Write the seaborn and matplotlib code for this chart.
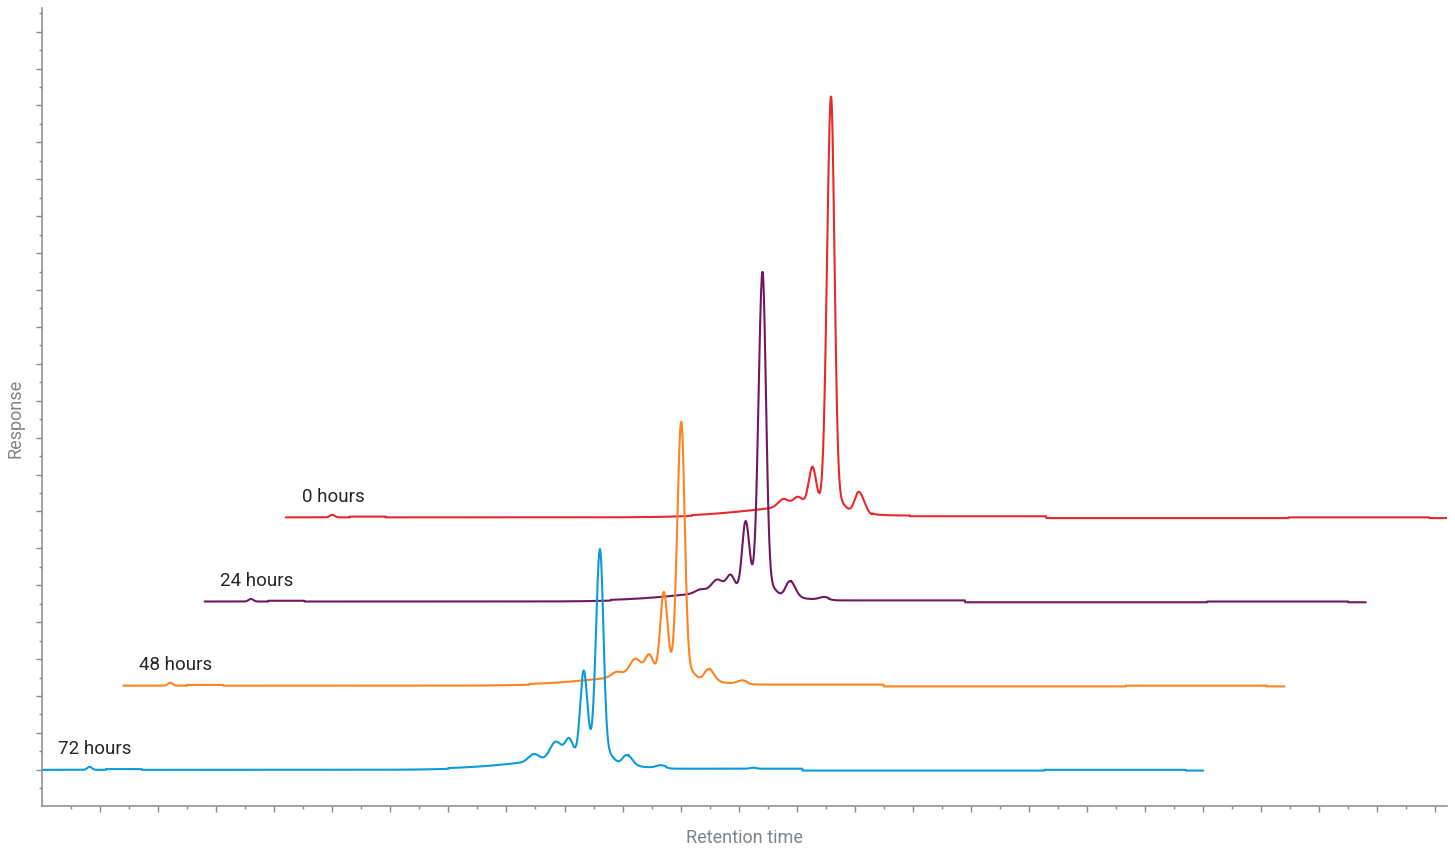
import numpy as np
import pandas as pd
import matplotlib
matplotlib.use("Agg")
import matplotlib.pyplot as plt
import seaborn as sns

# Sample labels, drawn bottom trace last
samples = ["0 hours", "24 hours", "48 hours", "72 hours"]
colors = ["#e8282b", "#6f1a5f", "#ff8420", "#0a9bdc"]

# Each chromatogram is shifted right and up from the one in front of it
run_length = 20.0          # minutes recorded per run
x_shift = [4.2, 2.8, 1.4, 0.0]
y_shift = [6.84, 4.56, 2.28, 0.0]

# Peak table per sample: retention time (min), height, left/right widths
peak_rt = {
    "0 hours":  [0.80, 8.57, 8.82, 9.07, 9.39, 9.55, 9.87],
    "24 hours": [0.80, 8.54, 8.83, 9.06, 9.32, 9.61, 9.77, 10.08, 10.67],
    "48 hours": [0.81, 8.50, 8.82, 9.06, 9.31, 9.61, 9.77, 10.08, 10.66],
    "72 hours": [0.82, 8.47, 8.85, 9.08, 9.33, 9.61, 9.77, 10.07, 10.66, 12.25],
}
peak_h = {
    "0 hours":  [0.07, 0.22, 0.25, 1.05, 11.09, 0.18, 0.58],
    "24 hours": [0.07, 0.10, 0.33, 0.42, 1.88, 8.64, 0.16, 0.44, 0.07],
    "48 hours": [0.08, 0.14, 0.45, 0.52, 2.22, 6.84, 0.16, 0.33, 0.09],
    "72 hours": [0.08, 0.20, 0.48, 0.52, 2.37, 5.67, 0.18, 0.28, 0.07, 0.03],
}
peak_sl = {
    "0 hours":  [0.04, 0.09, 0.08, 0.065, 0.068, 0.08, 0.07],
    "24 hours": [0.04, 0.09, 0.10, 0.07, 0.06, 0.068, 0.08, 0.07, 0.08],
    "48 hours": [0.04, 0.09, 0.10, 0.07, 0.06, 0.068, 0.08, 0.07, 0.08],
    "72 hours": [0.04, 0.09, 0.10, 0.07, 0.06, 0.068, 0.08, 0.07, 0.08, 0.05],
}
peak_sr = {
    "0 hours":  [0.04, 0.09, 0.08, 0.065, 0.06, 0.08, 0.09],
    "24 hours": [0.04, 0.09, 0.10, 0.07, 0.065, 0.06, 0.08, 0.09, 0.08],
    "48 hours": [0.04, 0.09, 0.10, 0.07, 0.065, 0.06, 0.08, 0.09, 0.08],
    "72 hours": [0.04, 0.09, 0.10, 0.07, 0.065, 0.06, 0.08, 0.09, 0.08, 0.05],
}

# Broad unresolved hump under the main cluster: centre, height, left/right widths
hump_rt = [9.18, 9.40, 9.40, 9.40]
hump_h = [0.30, 0.28, 0.30, 0.30]
hump_sl = [1.1, 1.1, 1.1, 1.1]
hump_sr = [0.45, 0.45, 0.45, 0.45]

# Baseline drift: level changes at these run times
step_rt = [0.0, 1.10, 1.72, 7.00, 10.10, 10.75, 13.10, 17.27, 19.70]
step_lv = [0.0, 0.02, 0.00, 0.02, 0.05, 0.03, -0.02, 0.00, -0.02]


def bigauss(t, c, h, sl, sr):
    s = np.where(t < c, sl, sr)
    return h * np.exp(-0.5 * ((t - c) / s) ** 2)


t = np.arange(0.0, run_length + 1e-9, 0.004)
idx = np.clip(np.searchsorted(step_rt, t, side="right") - 1, 0, len(step_lv) - 1)
baseline = np.asarray(step_lv)[idx]

frames = []
for i, name in enumerate(samples):
    sig = baseline + bigauss(t, hump_rt[i], hump_h[i], hump_sl[i], hump_sr[i])
    for c, h, sl, sr in zip(peak_rt[name], peak_h[name], peak_sl[name], peak_sr[name]):
        sig = sig + bigauss(t, c, h, sl, sr)
    frames.append(pd.DataFrame({
        "Retention time": t + x_shift[i],
        "Response": sig + y_shift[i],
        "Sample": name,
    }))
data = pd.concat(frames, ignore_index=True)

sns.set_theme(style="white")
plt.rcParams["font.family"] = ["Roboto", "DejaVu Sans"]

fig = plt.figure(figsize=(14.55, 8.48), dpi=100)
ax = fig.add_axes([42 / 1455, 42 / 848, 1405 / 1455, 798 / 848])

sns.lineplot(data=data, x="Retention time", y="Response", hue="Sample",
             hue_order=samples, palette=colors, estimator=None, sort=False,
             linewidth=1.5, legend=False, ax=ax)

for i, name in enumerate(samples):
    ax.text(x_shift[i] + 0.27, y_shift[i] + 0.56, name, fontsize=13.5,
            color="#262626", ha="left", va="center")

x_max = run_length + max(x_shift)
y_min, y_max = -0.98, 20.64
ax.set_xlim(0, x_max)
ax.set_ylim(y_min, y_max)

axis_grey = "#868a91"
for side in ("top", "right"):
    ax.spines[side].set_visible(False)
for side in ("left", "bottom"):
    ax.spines[side].set_color(axis_grey)
    ax.spines[side].set_linewidth(1.1)

ax.set_xticks(np.arange(1, x_max, 1.0))
ax.set_xticks(np.arange(0.5, x_max, 1.0), minor=True)
ax.set_yticks(np.arange(0, y_max, 1.0))
ax.set_yticks(np.arange(-0.5, y_max, 1.0), minor=True)
ax.tick_params(which="major", length=4, width=1, color=axis_grey,
               labelbottom=False, labelleft=False, bottom=True, left=True)
ax.tick_params(which="minor", length=2, width=1, color=axis_grey,
               bottom=True, left=True)

ax.set_xlabel("Retention time", fontsize=13, color="#80858b")
ax.set_ylabel("Response", fontsize=13, color="#80858b")
ax.xaxis.set_label_coords(0.5, -32 / 798)
ax.xaxis.label.set_va("center")
ax.yaxis.set_label_coords(-26 / 1405, 0.486)
ax.yaxis.label.set_va("center")

fig.savefig("out.png", dpi=100, facecolor="white")
